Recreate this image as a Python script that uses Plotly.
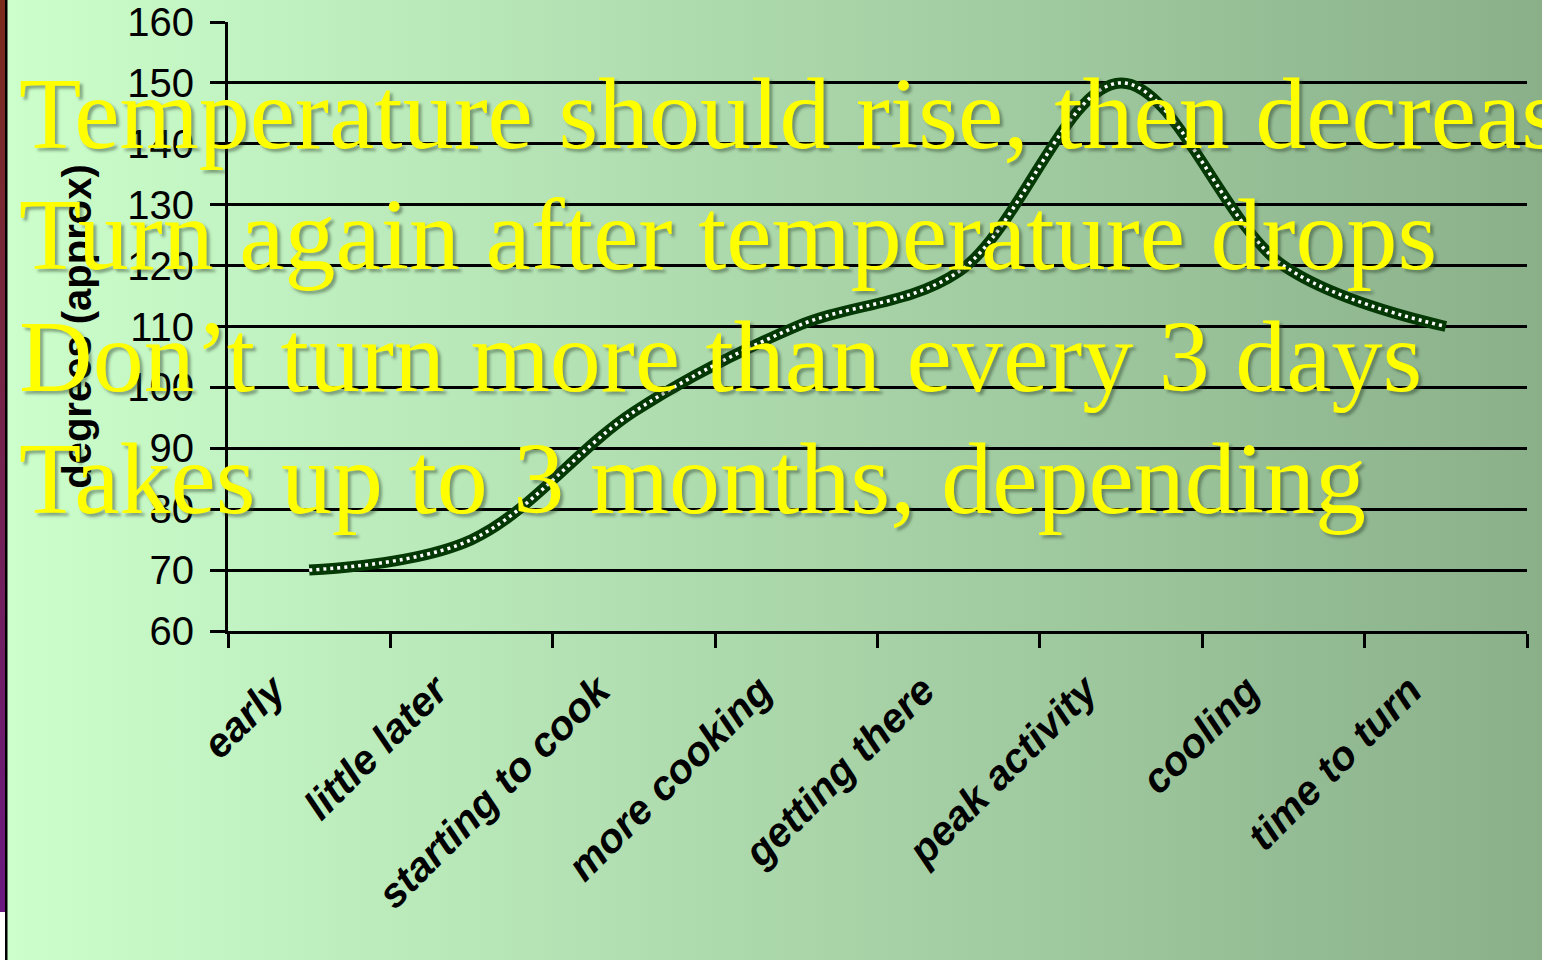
import base64
import plotly.graph_objects as go

# Compost pile temperature over the cooking cycle
categories = ["early", "little later", "starting to cook", "more cooking",
              "getting there", "peak activity", "cooling", "time to turn"]
temps = [70, 75, 96, 110, 119, 150, 120, 110]

y_ticks = [60, 70, 80, 90, 100, 110, 120, 130, 140, 150, 160]

notes = [
    "Temperature should rise, then decrease",
    "Turn again after temperature drops",
    "Don\u2019t turn more than every 3 days",
    "Takes up to 3 months, depending",
]

W, H = 1542, 960
L, R, T, B = 228, 15, 22, 329
PW, PH = W - L - R, H - T - B

# Slide-style background: horizontal green gradient plus a thin left border strip
svg = (
    f'<svg xmlns="http://www.w3.org/2000/svg" width="{W}" height="{H}" '
    f'viewBox="0 0 {W} {H}" preserveAspectRatio="none">'
    '<defs>'
    '<linearGradient id="g" x1="0" x2="1" y1="0" y2="0">'
    '<stop offset="0" stop-color="#CCFFCC"/>'
    '<stop offset="1" stop-color="#8AB08A"/>'
    '</linearGradient>'
    '<linearGradient id="s" x1="0" x2="0" y1="0" y2="1">'
    '<stop offset="0" stop-color="#7B2C1C"/>'
    '<stop offset="1" stop-color="#6A1A80"/>'
    '</linearGradient>'
    '</defs>'
    f'<rect width="{W}" height="{H}" fill="url(#g)"/>'
    '<rect width="5" height="912" fill="url(#s)"/>'
    f'<rect y="912" width="5" height="{H - 912}" fill="#ffffff"/>'
    f'<rect x="5" width="2.5" height="{H}" fill="#000000"/>'
    '</svg>'
)
bg_uri = "data:image/svg+xml;base64," + base64.b64encode(svg.encode()).decode()

fig = go.Figure()

# Thick dark-green line with a white dotted core
fig.add_trace(go.Scatter(
    x=categories, y=temps, mode="lines",
    line=dict(color="#043804", width=11, shape="spline", smoothing=1),
    hoverinfo="skip", showlegend=False,
))
fig.add_trace(go.Scatter(
    x=categories, y=temps, mode="lines",
    line=dict(color="#ffffff", width=3.5, shape="spline", smoothing=1, dash="3px,4px"),
    hoverinfo="skip", showlegend=False,
))

# Overlaid slide bullet text
baselines = [148, 269, 391, 513]
annotations = []
for txt, base in zip(notes, baselines):
    cy = base - 35
    annotations.append(dict(
        text=txt, xref="paper", yref="paper",
        x=(17 - L) / PW, y=(T + PH - cy) / PH,
        xanchor="left", yanchor="middle", showarrow=False,
        font=dict(family="Liberation Serif, Times New Roman, serif", size=102,
                  color="#FFFF00", shadow="3px 3px 3px rgba(40,60,40,0.45)"),
    ))

sans = "Liberation Sans, Arial, sans-serif"

fig.update_layout(
    width=W, height=H,
    margin=dict(l=L, r=R, t=T, b=B, pad=0, autoexpand=False),
    paper_bgcolor="rgba(0,0,0,0)",
    plot_bgcolor="rgba(0,0,0,0)",
    showlegend=False,
    hovermode=False,
    annotations=annotations,
    images=[dict(
        source=bg_uri, xref="paper", yref="paper",
        x=-L / PW, y=1 + T / PH, sizex=W / PW, sizey=H / PH,
        xanchor="left", yanchor="top", sizing="stretch", layer="below",
    )],
    xaxis=dict(
        type="category", range=[-0.5, len(categories) - 0.5],
        automargin=False,
        tickson="boundaries", ticks="outside", ticklen=14, tickwidth=3,
        tickcolor="#000000", showgrid=False, zeroline=False,
        showline=True, linecolor="#000000", linewidth=3,
        tickangle=-45, ticklabelstandoff=16, ticklabelshift=-36,
        tickfont=dict(family=sans, size=41, color="#000000",
                      weight="bold", style="italic"),
    ),
    yaxis=dict(
        range=[60, 160], tickvals=y_ticks, ticktext=[str(v) for v in y_ticks],
        automargin=False,
        ticks="outside", ticklen=15, tickwidth=3, tickcolor="#000000",
        showgrid=True, gridcolor="#000000", gridwidth=3, zeroline=False,
        showline=True, linecolor="#000000", linewidth=3,
        tickfont=dict(family=sans, size=40, color="#000000"),
        ticklabelstandoff=8,
        title=dict(text="degrees (approx)", standoff=24,
                   font=dict(family=sans, size=40, color="#000000", weight="bold")),
    ),
)

fig.write_html("out.html", config={"displayModeBar": False, "staticPlot": True})
